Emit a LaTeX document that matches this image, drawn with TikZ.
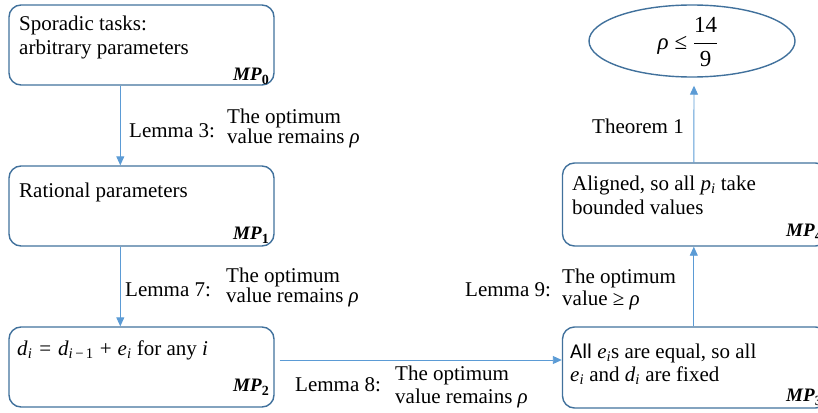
\documentclass[tikz,border=0pt]{standalone}
\usepackage{amsmath}
\usepackage{fontspec}
\setmainfont{Liberation Serif}
\newfontfamily\calib{Carlito}
\usetikzlibrary{arrows.meta,shapes.geometric}
\definecolor{boxblue}{HTML}{41719C}
\definecolor{arrblue}{HTML}{5B9BD5}
\newcommand{\mplabel}[1]{\textbf{\textit{MP}}\raisebox{-4.5pt}{\fontsize{14}{14}\selectfont\textbf{#1}}}
\newcommand{\vsub}[2]{\textit{#1}\textsubscript{#2}}
\begin{document}
\begin{tikzpicture}[x=1pt,y=-1pt,
  mpbox/.style={draw=boxblue,line width=1.4pt,rounded corners=12pt,minimum width=265pt,inner sep=0pt},
  arr/.style={draw=arrblue,line width=0.9pt,-{Triangle[length=9pt,width=8pt]}},
  txt/.style={anchor=base west,inner sep=0pt,font=\fontsize{21}{24}\selectfont},
  mplab/.style={anchor=base east,inner sep=0pt,font=\fontsize{19}{19}\selectfont},
]
\useasboundingbox (0,0) rectangle (818,412);
\clip (0,0) rectangle (818,412);

% boxes
\node[mpbox,minimum height=80pt] (mp0) at (141.5,45) {};
\node[mpbox,minimum height=80pt] (mp1) at (141.5,206) {};
\node[mpbox,minimum height=80pt] (mp2) at (141.5,367) {};
\node[mpbox,minimum height=81pt] (mp3) at (695,367.5) {};
\node[mpbox,minimum height=83pt] (mp4) at (695,204.5) {};
\node[ellipse,draw=boxblue,line width=1.4pt,minimum width=206pt,minimum height=72pt,inner sep=0pt] (ell) at (692,41) {};

% box texts
\node[txt] (t0a) at (19,31) {Sporadic tasks:};
\node[txt] (t0b) at (19,54) {arbitrary parameters};
\node[mplab] (l0) at (269,80) {\mplabel{0}};

\node[txt] (t1) at (19,197) {Rational parameters};
\node[mplab] (l1) at (269,239) {\mplabel{1}};

\node[txt] (t2) at (17,355) {\vsub{d}{\textit{i}}\hspace{7pt}=\hspace{7pt}\vsub{d}{\textit{i}\,−\,1}\hspace{6pt}+\hspace{6pt}\vsub{e}{\textit{i}} for any \textit{i}};
\node[mplab] (l2) at (269,391) {\mplabel{2}};

\node[txt] (t3a) at (570,358) {{\calib All} \vsub{e}{\textit{i}}s are equal, so all};
\node[txt] (t3b) at (570,381) {\vsub{e}{\textit{i}} and \vsub{d}{\textit{i}} are fixed};
\node[mplab] (l3) at (822,401) {\mplabel{3}};

\node[txt] (t4a) at (572,190) {Aligned, so all \vsub{p}{\textit{i}} take};
\node[txt] (t4b) at (572,214) {bounded values};
\node[mplab] (l4) at (822,236) {\mplabel{4}};

\node[inner sep=0pt,font=\fontsize{23}{26}\selectfont] (goal) at (688,42) {\textit{ρ} ≤ $\dfrac{\text{14}}{\text{9}}$};

% connectors
\draw[arr] ([xshift=112pt]mp0.south west) -- ([xshift=112pt]mp1.north west);
\draw[arr] ([xshift=112pt]mp1.south west) -- ([xshift=112pt]mp2.north west);
\draw[arr] ([xshift=5pt,yshift=7pt]mp2.east) -- ([yshift=7.5pt]mp3.west);
\draw[arr] ([xshift=132pt]mp3.north west) -- ([xshift=132pt]mp4.south west);
\draw[arr] ([xshift=132pt]mp4.north west) -- ([xshift=2pt,yshift=-8pt]ell.south);

% connector labels
\node[txt] (lem3) at (129,137) {Lemma 3:};
\node[txt] (lem3a) at (227,123) {The optimum};
\node[txt] (lem3b) at (227,143) {value remains \textit{ρ}};

\node[txt] (lem7) at (125,296) {Lemma 7:};
\node[txt] (lem7a) at (226,282) {The optimum};
\node[txt] (lem7b) at (226,302) {value remains \textit{ρ}};

\node[txt] (lem8) at (295,391) {Lemma 8:};
\node[txt] (lem8a) at (395,380) {The optimum};
\node[txt] (lem8b) at (395,403) {value remains \textit{ρ}};

\node[txt] (lem9) at (465,296) {Lemma 9:};
\node[txt] (lem9a) at (562,283) {The optimum};
\node[txt] (lem9b) at (562,305) {value ≥ \textit{ρ}};

\node[txt] (thm1) at (592,133) {Theorem 1};
\end{tikzpicture}
\end{document}
